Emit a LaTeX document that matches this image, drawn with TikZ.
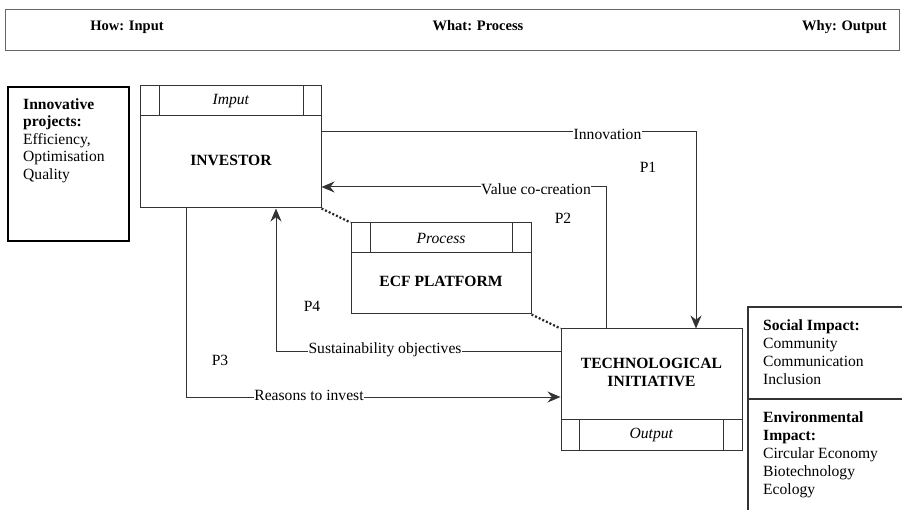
\documentclass[tikz,border=0pt]{standalone}
\usepackage{fontspec}
\setmainfont{Liberation Serif}
\usetikzlibrary{arrows.meta}

\tikzset{
  ln/.style={line width=1pt, draw=black!80},
  entity/.style={ln, rectangle, inner sep=0pt},
  lbl/.style={fill=white, inner sep=0.6pt},
  conn/.style={ln, -{Stealth[length=13pt,width=11pt]}},
  dots/.style={line width=2.2pt, draw=black!85, dash pattern=on 2pt off 2pt},
  sidetxt/.style={anchor=north west, align=left, inner sep=0pt},
  headtxt/.style={anchor=base, font=\fontsize{14.5}{17}\selectfont\bfseries}
}

\begin{document}
\begin{tikzpicture}[x=1pt,y=-1pt, every node/.style={font=\fontsize{15.6}{18}\selectfont}]
 	\useasboundingbox (0,0) rectangle (902,510);
 	\node[draw=black!60, line width=0.8pt, minimum width=894pt, minimum height=41pt] (head) at (452,29.5) {};
 	\node[headtxt] (how) at (127,31) {How: Input};
 	\node[headtxt] (what) at (478,31) {What: Process};
 	\node[headtxt] (why) at (844.5,31) {Why: Output};

 	\node[draw=black, line width=1.4pt, minimum width=121pt, minimum height=154pt] (proj) at (68.5,164) {};
 	\node[sidetxt, font=\fontsize{15.6}{17.5}\selectfont] (projtxt) at (23,98) {\textbf{Innovative}\\\textbf{projects:}\\Efficiency,\\Optimisation\\Quality};

 	\node[entity, minimum width=181pt, minimum height=122pt] (inv) at (230.5,147) {};
 	\draw[ln] (140,116) -- (321,116);
 	\draw[ln] (159,86) -- (159,116) (303,86) -- (303,116);
 	\node (invhead) at (231,101) {\textit{Imput}};
 	\node (invname) at (231,160) {\textbf{INVESTOR}};

 	\node[entity, minimum width=180pt, minimum height=91pt] (ecf) at (441,268.5) {};
 	\draw[ln] (351,253) -- (531,253);
 	\draw[ln] (370,223) -- (370,253) (512,223) -- (512,253);
 	\node (ecfhead) at (441,238) {\textit{Process}};
 	\node (ecfname) at (441,281) {\textbf{ECF PLATFORM}};

 	\node[entity, minimum width=181pt, minimum height=121pt] (tech) at (651.5,389.5) {};
 	\draw[ln] (561,419) -- (742,419);
 	\draw[ln] (579,419) -- (579,450) (723,419) -- (723,450);
 	\node[align=center] (techname) at (651.5,372) {\textbf{TECHNOLOGICAL}\\\textbf{INITIATIVE}};
 	\node (techfoot) at (651.5,435) {\textit{Output}};

 	\draw[ln, line width=1.3pt] (902,307) -- (748,307) -- (748,510);
 	\draw[ln, line width=1.3pt] (748,399) -- (902,399);
 	\node[sidetxt] (social) at (763,319) {\textbf{Social Impact:}\\Community\\Communication\\Inclusion};
 	\node[sidetxt] (envir) at (763,411) {\textbf{Environmental}\\\textbf{Impact:}\\Circular Economy\\Biotechnology\\Ecology};

 	\draw[conn] ([yshift=15pt]inv.east) -| ([xshift=44.5pt]tech.north);
 	\draw[conn] ([xshift=-45.5pt]tech.north) |- ([yshift=-40pt]inv.east);
 	\draw[conn] ([yshift=37.5pt]tech.west) -| ([xshift=45.5pt]inv.south);
 	\draw[conn] ([xshift=-44.5pt]inv.south) |- ([yshift=-7.5pt]tech.west);
 	\node[lbl] (innov) at (607.5,134) {Innovation};
 	\node[lbl] (valco) at (536,189) {Value co-creation};
 	\node[lbl] (sust) at (385,350) {Sustainability objectives};
 	\node[lbl] (reason) at (309,395) {Reasons to invest};

 	\draw[dots] (inv.south east) -- (ecf.north west);
 	\draw[dots] (ecf.south east) -- (tech.north west);

 	\node (p1) at (648,167) {P1};
 	\node (p2) at (563,218) {P2};
 	\node (p3) at (220,360) {P3};
 	\node (p4) at (312,306) {P4};
\end{tikzpicture}
\end{document}
